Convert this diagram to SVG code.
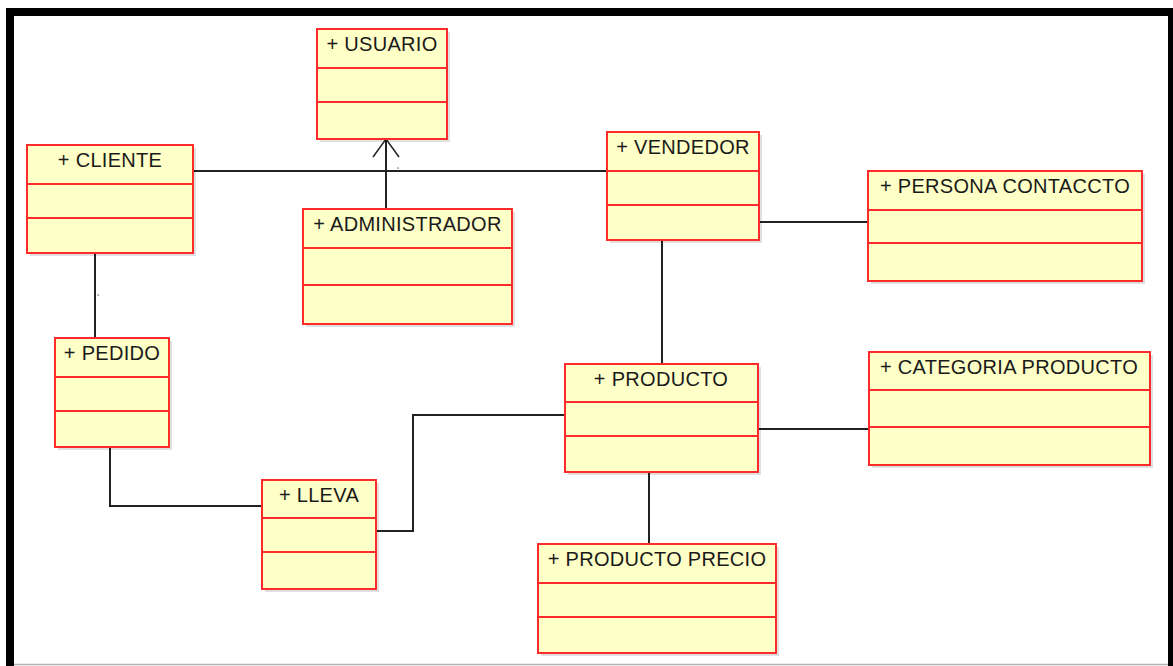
<svg xmlns="http://www.w3.org/2000/svg" width="1173" height="666" viewBox="0 0 1173 666">
  <style>
    .box { fill: #ffffc8; stroke: #ff2a2a; stroke-width: 2; }
    .sep { stroke: #ff2a2a; stroke-width: 2; }
    .shadow { fill: #000; opacity: 0.12; }
    .title { font-family: "Liberation Sans", Arial, sans-serif; font-size: 20px; letter-spacing: 0.3px; fill: #1a1a1a; text-anchor: middle; }
    .link { fill: none; stroke: #222; stroke-width: 2; }
    .head { fill: none; stroke: #222; stroke-width: 1.5; }
  </style>

  <!-- page frame -->
  <rect x="0" y="0" width="1173" height="666" fill="#fff"/>
  <rect x="6" y="8" width="1167" height="8" fill="#000"/>
  <rect x="6" y="8" width="8" height="658" fill="#000"/>
  <rect x="1168" y="8" width="5" height="658" fill="#000"/>
  <line x1="14" y1="664.5" x2="1168" y2="664.5" stroke="#b4b4b4" stroke-width="1.5"/>

  <!-- associations -->
  <g id="connectors">
    <path class="link" d="M191 171 H607"/>
    <path class="link" d="M386 209 V139"/>
    <path class="head" d="M373 157 L386 139 L399 157"/>
    <path class="link" d="M95 251 V338"/>
    <path class="link" d="M110 445 V506 H262"/>
    <path class="link" d="M374 531 H413 V415 H565"/>
    <path class="link" d="M757 222 H868"/>
    <path class="link" d="M662 239 V364"/>
    <path class="link" d="M757 429 H868"/>
    <path class="link" d="M649 470 V544"/>
    <rect x="397.5" y="167.5" width="1.2" height="1.2" fill="#444"/>
    <rect x="97.5" y="294.5" width="1.2" height="1.2" fill="#444"/>
  </g>

  <g id="usuario">
    <rect class="shadow" x="320" y="32" width="130" height="110"/>
    <rect class="box" x="317" y="29" width="130" height="110"/>
    <line class="sep" x1="317" y1="68" x2="447" y2="68"/>
    <line class="sep" x1="317" y1="102" x2="447" y2="102"/>
    <text class="title" x="382" y="51">+ USUARIO</text>
  </g>

  <g id="cliente">
    <rect class="shadow" x="30" y="148" width="166" height="108"/>
    <rect class="box" x="27" y="145" width="166" height="108"/>
    <line class="sep" x1="27" y1="184" x2="193" y2="184"/>
    <line class="sep" x1="27" y1="218" x2="193" y2="218"/>
    <text class="title" x="110" y="167">+ CLIENTE</text>
  </g>

  <g id="administrador">
    <rect class="shadow" x="306" y="212" width="209" height="115"/>
    <rect class="box" x="303" y="209" width="209" height="115"/>
    <line class="sep" x1="303" y1="248" x2="512" y2="248"/>
    <line class="sep" x1="303" y1="285" x2="512" y2="285"/>
    <text class="title" x="407.5" y="231">+ ADMINISTRADOR</text>
  </g>

  <g id="vendedor">
    <rect class="shadow" x="610" y="135" width="152" height="108"/>
    <rect class="box" x="607" y="132" width="152" height="108"/>
    <line class="sep" x1="607" y1="171" x2="759" y2="171"/>
    <line class="sep" x1="607" y1="205" x2="759" y2="205"/>
    <text class="title" x="683" y="154">+ VENDEDOR</text>
  </g>

  <g id="persona-contaccto">
    <rect class="shadow" x="871" y="174" width="274" height="110"/>
    <rect class="box" x="868" y="171" width="274" height="110"/>
    <line class="sep" x1="868" y1="210" x2="1142" y2="210"/>
    <line class="sep" x1="868" y1="243" x2="1142" y2="243"/>
    <text class="title" x="1005" y="193">+ PERSONA CONTACCTO</text>
  </g>

  <g id="pedido">
    <rect class="shadow" x="58" y="341" width="114" height="109"/>
    <rect class="box" x="55" y="338" width="114" height="109"/>
    <line class="sep" x1="55" y1="377" x2="169" y2="377"/>
    <line class="sep" x1="55" y1="411" x2="169" y2="411"/>
    <text class="title" x="112" y="360">+ PEDIDO</text>
  </g>

  <g id="lleva">
    <rect class="shadow" x="265" y="483" width="114" height="109"/>
    <rect class="box" x="262" y="480" width="114" height="109"/>
    <line class="sep" x1="262" y1="518" x2="376" y2="518"/>
    <line class="sep" x1="262" y1="552" x2="376" y2="552"/>
    <text class="title" x="319" y="502">+ LLEVA</text>
  </g>

  <g id="producto">
    <rect class="shadow" x="568" y="367" width="193" height="108"/>
    <rect class="box" x="565" y="364" width="193" height="108"/>
    <line class="sep" x1="565" y1="402" x2="758" y2="402"/>
    <line class="sep" x1="565" y1="436" x2="758" y2="436"/>
    <text class="title" x="661" y="386">+ PRODUCTO</text>
  </g>

  <g id="categoria-producto">
    <rect class="shadow" x="872" y="355" width="281" height="113"/>
    <rect class="box" x="869" y="352" width="281" height="113"/>
    <line class="sep" x1="869" y1="390" x2="1150" y2="390"/>
    <line class="sep" x1="869" y1="427" x2="1150" y2="427"/>
    <text class="title" x="1009" y="374">+ CATEGORIA PRODUCTO</text>
  </g>

  <g id="producto-precio">
    <rect class="shadow" x="541" y="547" width="238" height="109"/>
    <rect class="box" x="538" y="544" width="238" height="109"/>
    <line class="sep" x1="538" y1="583" x2="776" y2="583"/>
    <line class="sep" x1="538" y1="617" x2="776" y2="617"/>
    <text class="title" x="657" y="566">+ PRODUCTO PRECIO</text>
  </g>
</svg>
